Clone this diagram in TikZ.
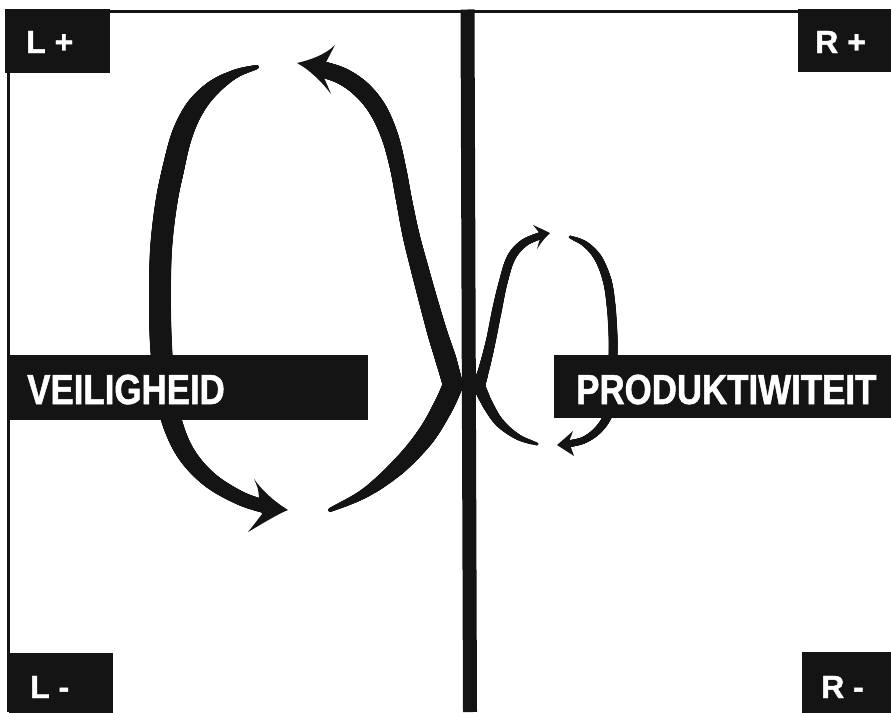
\documentclass[tikz,border=0pt]{standalone}
\usepackage{fontspec}
\newfontfamily\labfont[FakeStretch=0.83,FakeBold=1.2]{Liberation Sans}
\newfontfamily\cornerfont[FakeBold=1.2]{Liberation Sans}
\definecolor{ink}{RGB}{20,20,20}
\tikzset{
  blackbox/.style={fill=ink, draw=none, inner sep=0pt, outer sep=0pt, rectangle, anchor=north west},
  biglab/.style={text=white, inner sep=0pt, anchor=base west, font=\labfont\bfseries\fontsize{42}{42}\selectfont},
  cornerlab/.style={text=white, inner sep=0pt, anchor=base west, font=\cornerfont\bfseries\fontsize{32}{32}\selectfont},
  head/.style={fill=ink, draw=none},
  rule/.style={draw=ink, line width=#1}
}
% brush stroke: Catmull-Rom through points, filled circles of varying radius
\newcommand\inkstroke[4]{%
  \pgfmathtruncatemacro\bsLast{#4-2}%
  \foreach \bsS in {0,...,\bsLast}{%
    \pgfmathtruncatemacro\bsIa{max(\bsS-1,0)}%
    \pgfmathtruncatemacro\bsIb{\bsS}%
    \pgfmathtruncatemacro\bsIc{\bsS+1}%
    \pgfmathtruncatemacro\bsId{min(\bsS+2,#4-1)}%
    \pgfmathsetmacro\bsXa{#1[\bsIa]}\pgfmathsetmacro\bsYa{#2[\bsIa]}%
    \pgfmathsetmacro\bsXb{#1[\bsIb]}\pgfmathsetmacro\bsYb{#2[\bsIb]}%
    \pgfmathsetmacro\bsXc{#1[\bsIc]}\pgfmathsetmacro\bsYc{#2[\bsIc]}%
    \pgfmathsetmacro\bsXd{#1[\bsId]}\pgfmathsetmacro\bsYd{#2[\bsId]}%
    \pgfmathsetmacro\bsRb{#3[\bsIb]}\pgfmathsetmacro\bsRc{#3[\bsIc]}%
    \foreach \bsT in {0,0.025,...,1.001}{%
      \pgfmathsetmacro\bsPx{0.5*(2*\bsXb+(\bsXc-\bsXa)*\bsT+(2*\bsXa-5*\bsXb+4*\bsXc-\bsXd)*\bsT*\bsT+(3*\bsXb-\bsXa-3*\bsXc+\bsXd)*\bsT*\bsT*\bsT)}%
      \pgfmathsetmacro\bsPy{0.5*(2*\bsYb+(\bsYc-\bsYa)*\bsT+(2*\bsYa-5*\bsYb+4*\bsYc-\bsYd)*\bsT*\bsT+(3*\bsYb-\bsYa-3*\bsYc+\bsYd)*\bsT*\bsT*\bsT)}%
      \pgfmathsetmacro\bsPr{\bsRb+(\bsRc-\bsRb)*\bsT}%
      \fill[ink] (\bsPx,\bsPy) circle[radius=\bsPr pt];
    }%
  }%
}
\begin{document}
\begin{tikzpicture}[x=1pt,y=-1pt]
\useasboundingbox (0,0) rectangle (891,712);
\fill[white] (0,0) rectangle (891,712);
% frame
\coordinate (tl) at (5,11);
\coordinate (tr) at (891,11);
\coordinate (lt) at (8,9);
\coordinate (lb) at (8,712);
\coordinate (ct) at (467.5,9.5);
\coordinate (cb) at (470,712);
\draw[rule=3pt] (tl) -- (tr);
\draw[rule=3pt] (lt) -- (lb);
\draw[rule=14pt] (ct) -- (cb);

% stroke A (left loop)
\inkstroke{{257,235,213,195,182,173,166,161,160,161,165,173,187,210,240,266}}
          {{67,74,88,108,135,170,205,250,300,345,390,425,455,480,498,507}}
          {{2,4.5,7.5,9.5,10.5,11,11,11,11,11,10.5,10,9,8,7,6.5}}{16}
\fill[head] (288,510) .. controls (272,500) and (262,490) .. (254,479) .. controls (258,488) .. (259,497) -- (262,514) .. controls (256,522) .. (248,532) .. controls (265,522) and (278,514) .. (288,510) -- cycle;

% stroke B (big S)
\inkstroke{{330,365,398,425,443,453}}
          {{510,493,467,437,407,385}}
          {{2,5,8,9.5,10,10}}{6}
\inkstroke{{453,446,438,430,420,411,404,398,390,378,362,342,318}}
          {{385,360,335,307,270,235,200,168,137,110,90,76,68}}
          {{10,10.5,10,9.5,9,8.5,8,8,8.5,9,9,8.5,8}}{13}
\fill[head] (297,63) .. controls (310,60) and (325,55) .. (335,45) .. controls (330,55) .. (324,66) -- (322,74) .. controls (326,82) .. (331,94) .. controls (322,82) and (310,70) .. (297,63) -- cycle;

% stroke C (right small loop)
\inkstroke{{537,518,500,488,479}}
          {{444,437,423,405,386}}
          {{1.5,3,4.5,5.5,6}}{5}
\inkstroke{{479,485,491,497,503,511,524,542}}
          {{386,365,340,310,283,258,243,235}}
          {{6,5.5,5,5,4.5,4.5,4,3.5}}{8}
\fill[head] (550,233) .. controls (544,230) .. (533,225) -- (541,235) -- (537,249) .. controls (543,240) .. (550,233) -- cycle;

% stroke D (right return)
\inkstroke{{570,585,598,607,611,613,613,612,608,598,584,568}}
          {{237,244,258,280,305,335,360,395,415,430,440,444}}
          {{1.5,3,4,4.5,4.5,4.5,4.5,4.5,4.5,4,3.5,3.5}}{12}
\fill[head] (557,445) .. controls (564,439) .. (573,431) -- (569,442) -- (574,456) .. controls (565,450) .. (557,445) -- cycle;

% boxes
\node[blackbox, minimum width=361pt, minimum height=65pt] (vbox) at (7,355) {};
\node[blackbox, minimum width=338pt, minimum height=63pt] (pbox) at (554,355) {};
\node[blackbox, minimum width=105pt, minimum height=64pt] (lpbox) at (5,9) {};
\node[blackbox, minimum width=94pt, minimum height=63pt] (rpbox) at (798,9) {};
\node[blackbox, minimum width=104pt, minimum height=60pt] (lmbox) at (9,653) {};
\node[blackbox, minimum width=90pt, minimum height=61pt] (rmbox) at (802,652) {};

% labels
\node[biglab] (vtext) at (27,404) {VEILIGHEID};
\node[biglab] (ptext) at (576,404) {PRODUKTIWITEIT};
\node[cornerlab] (lptext) at (26,53) {L +};
\node[cornerlab] (rptext) at (815,53) {R +};
\node[cornerlab] (lmtext) at (30,698) {L -};
\node[cornerlab] (rmtext) at (821,698) {R -};
\end{tikzpicture}
\end{document}
